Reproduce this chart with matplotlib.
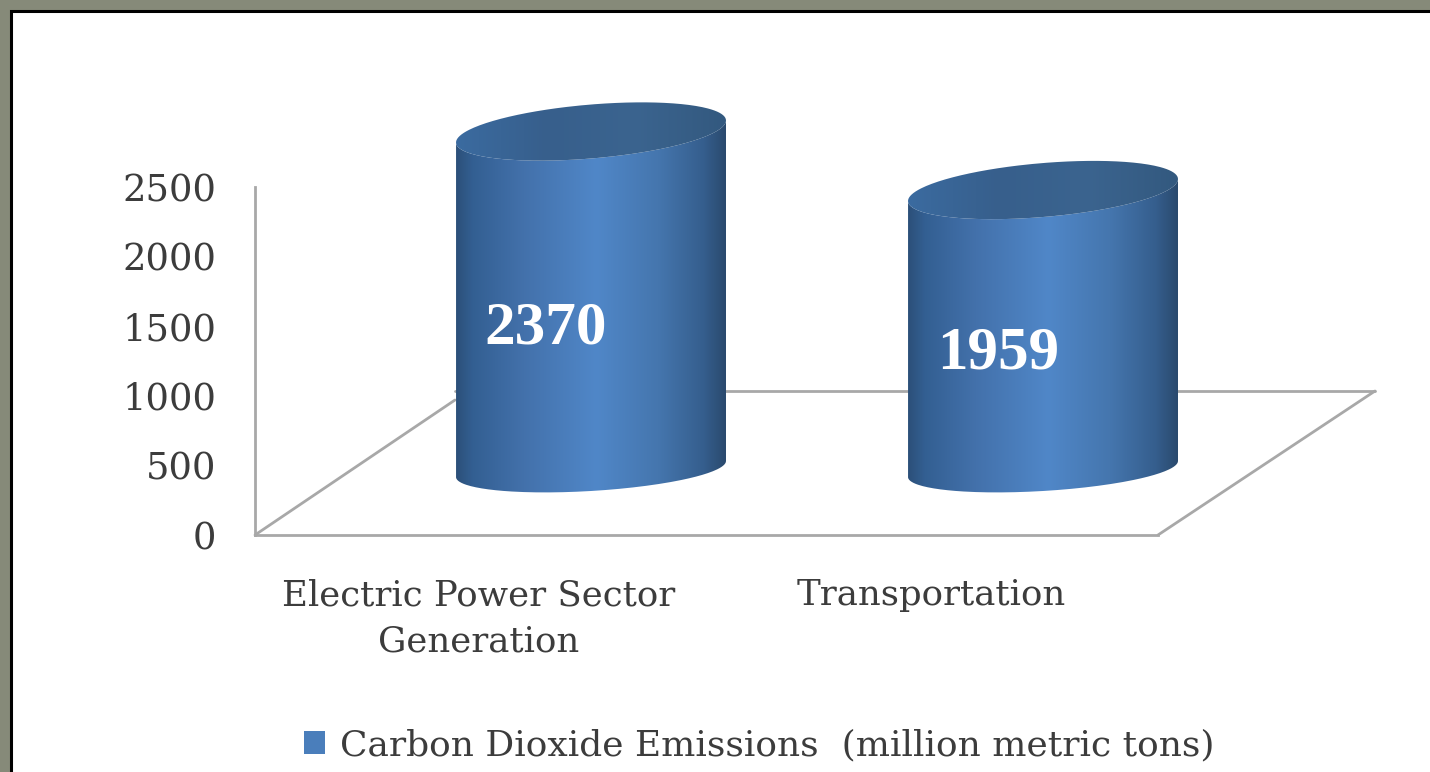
import numpy as np
import matplotlib
matplotlib.use("Agg")
import matplotlib.pyplot as plt
from matplotlib.colors import LinearSegmentedColormap
from matplotlib.patches import PathPatch, Rectangle, Patch
from matplotlib.path import Path
from matplotlib.lines import Line2D
from matplotlib.transforms import ScaledTranslation

categories = ["Electric Power Sector\nGeneration", "Transportation"]
emissions = [2370, 1959]
y_ticks = [0, 500, 1000, 1500, 2000, 2500]
series_name = "Carbon Dioxide Emissions  (million metric tons)"

W, H = 1430, 772
fig = plt.figure(figsize=(W / 100, H / 100), dpi=100, facecolor="#868a79")
SERIF = "DejaVu Serif"
GREY = "#a8a8a8"
TEXT = "#3c3c3c"

# white slide panel with black frame
fig.add_artist(Rectangle((10.5 / W, -0.1), 1.1, 1 - 10.5 / H + 0.1, transform=fig.transFigure,
                         facecolor="white", edgecolor="black", linewidth=2.2, zorder=-5))

# plot box in pixels
L, R, T, B = 255, 1375, 187, 535
ax = fig.add_axes([L / W, 1 - B / H, (R - L) / W, (B - T) / H], zorder=2)
ax.patch.set_alpha(0)
TICK0, STEP = 479, 452
xlim = ((L - TICK0) / STEP, (R - TICK0) / STEP)
PX_Y = (B - T) / 2500

def px_dx(d):
    return d / STEP

def px_dy(d):
    return d / PX_Y

# floor drawn in plot units
floor_front_end = (1158 - TICK0) / STEP
DEPTH_X = px_dx(200)
DEPTH_Y = px_dy(144)
back_left = xlim[0] + DEPTH_X
floor_color = dict(color=GREY, lw=2.0, solid_capstyle="round")
ax.add_line(Line2D([xlim[0], back_left], [0, px_dy(135)], zorder=1, clip_on=False, **floor_color))
ax.add_line(Line2D([back_left, xlim[1]], [DEPTH_Y, DEPTH_Y], zorder=1, clip_on=False, **floor_color))
ax.add_line(Line2D([floor_front_end, xlim[1]], [0, DEPTH_Y], zorder=1, clip_on=False, **floor_color))

# cylinders
BAR_SHIFT = px_dx(112)
BASE = px_dy(B - 469)
CYL_SCALE = 1.023
A = 135
TOP_B, TOP_SHEAR = 27, 11
BASE_B, BASE_SHEAR = 22, 8
side_cmap = LinearSegmentedColormap.from_list("side", [
    (0.0, "#2c5079"), (0.06, "#335f92"), (0.25, "#4371ab"), (0.52, "#5087c8"),
    (0.75, "#4576ae"), (0.92, "#355e8d"), (1.0, "#2a4a6e")])
top_cmap = LinearSegmentedColormap.from_list("top", ["#3b6ba0", "#375f8c", "#3b648f", "#33597f"])
t = np.linspace(0, 2 * np.pi, 241)


def ellipse(cx, cy, b, shear):
    xs = cx + px_dx(A) * np.cos(t)
    ys = cy + px_dy(b) * np.sin(t) + px_dy(shear) * np.cos(t)
    return xs, ys


for i, v in enumerate(emissions):
    cx = i + BAR_SHIFT
    y_top = BASE + v * CYL_SCALE
    bx, by = ellipse(cx, BASE, BASE_B, BASE_SHEAR)
    tx, ty = ellipse(cx, y_top, TOP_B, TOP_SHEAR)
    lower = np.sin(t) <= 0
    order = np.argsort(bx[lower])
    order_t = np.argsort(tx[lower])
    sx = np.r_[bx[lower][order], tx[lower][order_t][::-1]]
    sy = np.r_[by[lower][order], ty[lower][order_t][::-1]]
    clip = PathPatch(Path(np.c_[sx, sy]), transform=ax.transData, facecolor="none",
                     edgecolor="none", clip_on=False)
    ax.add_patch(clip)
    im = ax.imshow(np.linspace(0, 1, 256)[None, :], cmap=side_cmap, aspect="auto", zorder=3,
                   extent=(cx - px_dx(A), cx + px_dx(A), BASE - px_dy(40), y_top + px_dy(40)))
    im.set_clip_path(clip)
    im.set_clip_box(fig.bbox)
    cap = PathPatch(Path(np.c_[tx, ty]), transform=ax.transData, facecolor="none",
                    edgecolor="none", clip_on=False)
    ax.add_patch(cap)
    im2 = ax.imshow(np.linspace(0, 1, 256)[None, :], cmap=top_cmap, aspect="auto", zorder=4,
                    extent=(cx - px_dx(A), cx + px_dx(A), y_top - px_dy(40), y_top + px_dy(40)))
    im2.set_clip_path(cap)
    im2.set_clip_box(fig.bbox)
    ax.text(cx - px_dx(45), BASE + v * 0.425, str(v), ha="center", va="center", color="white",
            family="Liberation Serif", weight="bold", fontsize=44, zorder=5)

ax.set_xlim(*xlim)
ax.set_ylim(0, 2500)

# axes
for s in ("top", "right"):
    ax.spines[s].set_visible(False)
for s in ("left", "bottom"):
    ax.spines[s].set_color(GREY)
    ax.spines[s].set_linewidth(2.0)
ax.spines["bottom"].set_bounds(xlim[0], floor_front_end)
ax.set_yticks(y_ticks)
ax.set_yticklabels([str(v) for v in y_ticks], family=SERIF, fontsize=26.6, color=TEXT,
                   va="center_baseline")
lift = ScaledTranslation(0, 2 / 100, fig.dpi_scale_trans)
for lab in ax.get_yticklabels():
    lab.set_transform(lab.get_transform() + lift)
ax.set_xticks(range(len(categories)))
ax.set_xticklabels(categories, family=SERIF, fontsize=25.6, color=TEXT, linespacing=1.47)
ax.tick_params(axis="y", length=0, pad=28)
ax.tick_params(axis="x", length=0, pad=31)

# legend
fig.legend(handles=[Patch(facecolor="#4a7ebb", edgecolor="none", label=series_name)],
           loc="center", bbox_to_anchor=(759 / W, 1 - 745 / H), frameon=False,
           prop={"family": SERIF, "size": 25.9}, labelcolor=TEXT,
           handlelength=0.6, handleheight=0.6, handletextpad=0.4)

fig.savefig("out.png", dpi=100, facecolor=fig.get_facecolor())
